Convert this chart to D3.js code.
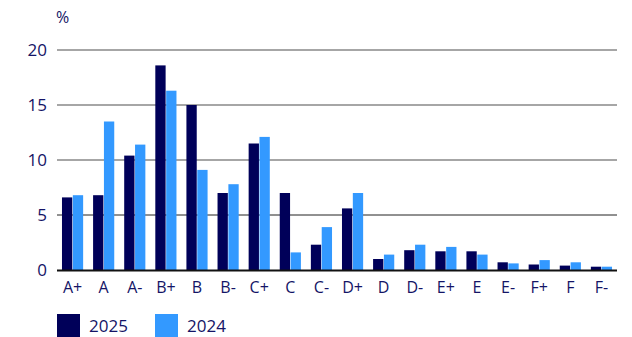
<!DOCTYPE html>
<html>
<head>
<meta charset="utf-8">
<script src="https://cdn.jsdelivr.net/npm/d3@7"></script>
<style>
  body { margin: 0; background: #fff; }
  svg text { font-family: "Open Sans", "Noto Sans", sans-serif; fill: #141466; }
</style>
</head>
<body>
<div id="chart"></div>
<script>
// rating classes and shares (%) per year
var grades = ["A+", "A", "A-", "B+", "B", "B-", "C+", "C", "C-", "D+", "D", "D-", "E+", "E", "E-", "F+", "F", "F-"]
var share2025 = [6.6, 6.8, 10.4, 18.6, 15.0, 7.0, 11.5, 7.0, 2.3, 5.6, 1.0, 1.8, 1.7, 1.7, 0.7, 0.5, 0.4, 0.3]
var share2024 = [6.8, 13.5, 11.4, 16.3, 9.1, 7.8, 12.1, 1.6, 3.9, 7.0, 1.4, 2.3, 2.1, 1.4, 0.6, 0.9, 0.7, 0.3]
var years = ["2025", "2024"]
var yTicks = [0, 5, 10, 15, 20]

var colors = { "2025": "#000059", "2024": "#3399ff" }

var width = 632, height = 337
var margin = { top: 50, right: 15, bottom: 67, left: 57 }

var svg = d3.select("#chart")
    .append("svg")
    .attr("width", width)
    .attr("height", height)

var x = d3.scaleBand()
    .domain(grades)
    .range([margin.left, width - margin.right])
    .paddingInner(0.32)
    .paddingOuter(0.16)

var xInner = d3.scaleBand()
    .domain(years)
    .range([0, x.bandwidth()])
    .paddingInner(0.05)

var y = d3.scaleLinear()
    .domain([0, 20])
    .range([height - margin.bottom, margin.top])

// horizontal grid
svg.append("g")
    .selectAll("line")
    .data(yTicks.filter(d => d > 0))
    .enter()
    .append("line")
    .attr("x1", margin.left)
    .attr("x2", width - margin.right)
    .attr("y1", d => y(d))
    .attr("y2", d => y(d))
    .style("stroke", d => d == 5 ? "#222" : "#888")
    .style("stroke-width", d => d == 5 ? 1 : 1.5)

// y tick labels
svg.append("g")
    .selectAll("text")
    .data(yTicks)
    .enter()
    .append("text")
    .attr("x", 47)
    .attr("y", d => y(d))
    .attr("dy", "0.36em")
    .attr("text-anchor", "end")
    .style("font-size", "17px")
    .text(d => d)

svg.append("text")
    .attr("x", 56)
    .attr("y", 23)
    .style("font-size", "16px")
    .text("%")

// bars
var rows = grades.map((g, i) => ({ grade: g, "2025": share2025[i], "2024": share2024[i] }))

var groups = svg.append("g")
    .selectAll("g")
    .data(rows)
    .enter()
    .append("g")
    .attr("transform", d => "translate(" + x(d.grade) + ",0)")

groups.selectAll("rect")
    .data(d => years.map(k => ({ key: k, value: d[k] })))
    .enter()
    .append("rect")
    .attr("x", d => xInner(d.key))
    .attr("width", xInner.bandwidth())
    .attr("y", d => y(d.value))
    .attr("height", d => y(0) - y(d.value))
    .attr("fill", d => colors[d.key])

// baseline
svg.append("line")
    .attr("x1", margin.left)
    .attr("x2", width - margin.right)
    .attr("y1", y(0) + 0.5)
    .attr("y2", y(0) + 0.5)
    .style("stroke", "#111")
    .style("stroke-width", 2)

// category labels
svg.append("g")
    .selectAll("text")
    .data(grades)
    .enter()
    .append("text")
    .attr("x", d => x(d) + x.bandwidth() / 2)
    .attr("y", 293)
    .attr("text-anchor", "middle")
    .style("font-size", "16px")
    .text(d => d)

// legend
var legend = svg.append("g")
    .selectAll("g")
    .data(years)
    .enter()
    .append("g")
    .attr("transform", (d, i) => "translate(" + (57 + i * 98) + ",314)")

legend.append("rect")
    .attr("width", 23)
    .attr("height", 23)
    .attr("fill", d => colors[d])

legend.append("text")
    .attr("x", 32)
    .attr("y", 12)
    .attr("dy", "0.36em")
    .style("font-size", "17px")
    .text(d => d)
</script>
</body>
</html>
